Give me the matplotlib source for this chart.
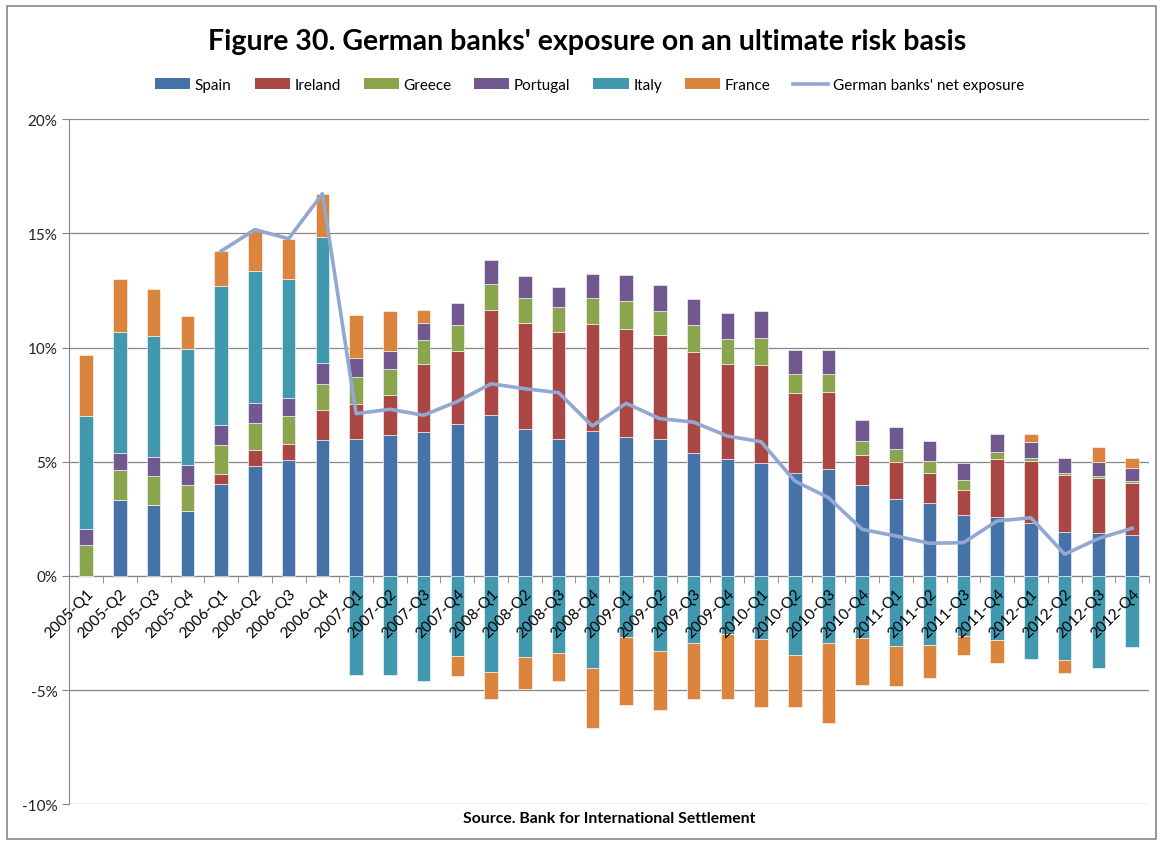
import matplotlib.pyplot as plt
import numpy as np
from matplotlib.patches import Rectangle, Patch
from matplotlib.lines import Line2D
from matplotlib.ticker import FuncFormatter

quarters = ['2005-Q1', '2005-Q2', '2005-Q3', '2005-Q4',
            '2006-Q1', '2006-Q2', '2006-Q3', '2006-Q4',
            '2007-Q1', '2007-Q2', '2007-Q3', '2007-Q4',
            '2008-Q1', '2008-Q2', '2008-Q3', '2008-Q4',
            '2009-Q1', '2009-Q2', '2009-Q3', '2009-Q4',
            '2010-Q1', '2010-Q2', '2010-Q3', '2010-Q4',
            '2011-Q1', '2011-Q2', '2011-Q3', '2011-Q4',
            '2012-Q1', '2012-Q2', '2012-Q3', '2012-Q4']

# exposure, % (negative = net short)
spain = [0, 3.33, 3.11, 2.86, 4.03, 4.83, 5.07, 5.97,
         6.01, 6.16, 6.31, 6.64, 7.05, 6.44, 5.99, 6.36,
         6.09, 6.00, 5.40, 5.11, 4.93, 4.53, 4.70, 3.97,
         3.39, 3.18, 2.67, 2.58, 2.34, 1.93, 1.87, 1.80]
ireland = [0, 0, 0, 0, 0.44, 0.67, 0.71, 1.29,
           1.51, 1.78, 2.99, 3.20, 4.59, 4.65, 4.70, 4.69,
           4.74, 4.54, 4.40, 4.16, 4.30, 3.47, 3.34, 1.33,
           1.60, 1.32, 1.08, 2.56, 2.71, 2.51, 2.42, 2.27]
greece = [1.34, 1.31, 1.28, 1.11, 1.28, 1.22, 1.23, 1.13,
          1.18, 1.11, 1.02, 1.14, 1.16, 1.10, 1.08, 1.11,
          1.23, 1.07, 1.18, 1.09, 1.21, 0.83, 0.79, 0.60,
          0.56, 0.54, 0.45, 0.29, 0.10, 0.09, 0.07, 0.08]
portugal = [0.73, 0.73, 0.84, 0.89, 0.86, 0.86, 0.79, 0.94,
            0.85, 0.82, 0.77, 0.96, 1.04, 0.93, 0.89, 1.08,
            1.14, 1.15, 1.17, 1.14, 1.17, 1.07, 1.07, 0.92,
            0.99, 0.89, 0.73, 0.80, 0.72, 0.65, 0.63, 0.58]
italy = [4.93, 5.32, 5.28, 5.10, 6.08, 5.79, 5.22, 5.52,
         -4.33, -4.33, -4.62, -3.51, -4.20, -3.55, -3.38, -4.01,
         -2.69, -3.30, -2.95, -2.54, -2.78, -3.44, -2.95, -2.73,
         -3.08, -3.01, -2.65, -2.82, -3.64, -3.70, -4.04, -3.11]
france = [2.68, 2.33, 2.07, 1.41, 1.54, 1.80, 1.75, 1.89,
          1.88, 1.75, 0.57, -0.86, -1.21, -1.38, -1.20, -2.66,
          -2.94, -2.58, -2.42, -2.83, -2.94, -2.32, -3.50, -2.04,
          -1.72, -1.45, -0.79, -0.98, 0.36, -0.53, 0.66, 0.45]
net_exposure = [np.nan, np.nan, np.nan, np.nan, 14.23, 15.17, 14.77, 16.74,
                7.11, 7.30, 7.04, 7.64, 8.42, 8.20, 8.03, 6.57,
                7.56, 6.89, 6.74, 6.13, 5.88, 4.16, 3.43, 2.04,
                1.75, 1.43, 1.46, 2.41, 2.55, 0.95, 1.64, 2.09]

series = [('Spain', spain, '#4572A7'),
          ('Ireland', ireland, '#AA4643'),
          ('Greece', greece, '#89A54E'),
          ('Portugal', portugal, '#71588F'),
          ('Italy', italy, '#4198AF'),
          ('France', france, '#DB843D')]
line_color = '#91A8D3'
grey = '#868686'

plt.rcParams['font.family'] = ['Lato', 'DejaVu Sans']

fig = plt.figure(figsize=(11.63, 8.45), dpi=100)
ax = fig.add_axes([0.0596, 0.047, 0.9284, 0.8106])

x = np.arange(len(quarters))
width = 0.4
pos_bottom = np.zeros(len(x))
neg_bottom = np.zeros(len(x))
for name, vals, col in series:
    v = np.array(vals, dtype=float)
    bottom = np.where(v >= 0, pos_bottom, neg_bottom)
    ax.bar(x, v, width, bottom=bottom, color=col, edgecolor='white',
           linewidth=0.4, zorder=2)
    pos_bottom += np.where(v >= 0, v, 0)
    neg_bottom += np.where(v < 0, v, 0)

ax.plot(x, net_exposure, color=line_color, lw=2.6, zorder=3)

ax.set_xlim(-0.5, len(x) - 0.5)
ax.set_ylim(-10, 20)
ax.set_yticks(np.arange(-10, 21, 5))
ax.yaxis.set_major_formatter(FuncFormatter(lambda v, p: '{:.0f}%'.format(v)))
ax.grid(axis='y', color=grey, lw=0.9)
ax.yaxis.set_zorder(0.5)
ax.xaxis.set_zorder(5)  # quarter labels sit on top of the negative bars

for s in ['top', 'right']:
    ax.spines[s].set_visible(False)
ax.spines['left'].set_color(grey)
ax.spines['bottom'].set_position(('data', 0))
ax.spines['bottom'].set_color(grey)
ax.spines['bottom'].set_zorder(1)

ax.set_xticks(x)
ax.set_xticks(np.arange(-0.5, len(x)), minor=True)
ax.set_xticklabels(quarters, rotation=45, ha='right', rotation_mode='anchor',
                   fontsize=11)
ax.tick_params(axis='x', which='major', length=0, pad=7)
ax.tick_params(axis='x', which='minor', length=5, color=grey, direction='out')
ax.tick_params(axis='y', length=5, color=grey, labelsize=11, labelcolor='#222222')

fig.text(0.505, 0.950, "Figure 30. German banks' exposure on an ultimate risk basis",
         ha='center', va='center', fontsize=20.5, fontweight='bold')

handles = [Patch(facecolor=col, label=name) for name, _, col in series]
handles.append(Line2D([0], [0], color=line_color, lw=2.6,
                      label="German banks' net exposure"))
fig.legend(handles=handles, loc='center', bbox_to_anchor=(0.507, 0.898),
           ncol=7, frameon=False, fontsize=11, handlelength=2.3,
           handleheight=0.7, handletextpad=0.3, columnspacing=1.5)

fig.text(0.524, 0.031, 'Source. Bank for International Settlement',
         ha='center', va='center', fontsize=11.3, fontweight='bold')

fig.patches.append(Rectangle((0.006, 0.006), 0.988, 0.986, transform=fig.transFigure,
                             fill=False, edgecolor=grey, lw=1.2))

fig.savefig('out.png', dpi=100)
